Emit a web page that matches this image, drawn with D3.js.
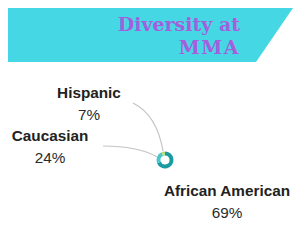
<!DOCTYPE html>
<html>
<head>
<meta charset="utf-8">
<script src="https://cdn.jsdelivr.net/npm/d3@7"></script>
<style>
	html, body { margin: 0; padding: 0; background: #fff; }
	svg { display: block; }
</style>
</head>
<body>
<div id="chart"></div>
<script>
	const categories = ['African American', 'Caucasian', 'Hispanic'];
	const shares = [69, 24, 7];
	const shareLabels = ['69%', '24%', '7%'];
	const sliceColors = ['#1a9ba3', '#48c6cc', '#b9dc7a'];
	const titleLines = ['Diversity at', 'MMA'];

	const width = 300, height = 250;
	const cx = 165, cy = 160;

	const svg = d3.select('#chart')
		.append('svg')
		.attr('width', width)
		.attr('height', height);

	// Banner with slanted right edge
	svg.append('path')
		.attr('d', 'M8,8 L293,8 L256,62 L8,62 Z')
		.attr('fill', '#46d7e4');

	svg.append('text')
		.attr('text-anchor', 'end')
		.style('font-family', '"DejaVu Serif", serif')
		.style('font-weight', 'bold')
		.style('font-size', '19px')
		.style('fill', '#a35fdc')
		.selectAll('tspan')
		.data(titleLines)
		.enter()
		.append('tspan')
		.attr('x', 240)
		.attr('y', function(d, i) { return 31 + i * 23; })
		.attr('letter-spacing', function(d, i) { return i === 1 ? '1.5px' : '0px'; })
		.text(function(d) { return d; });

	// Donut
	const pie = d3.pie().sort(null).value(function(d) { return d; });
	const arcs = pie(shares);
	const arc = d3.arc().innerRadius(4.5).outerRadius(8.5);
	const g = svg.append('g').attr('transform', 'translate(' + cx + ',' + cy + ')');

	g.selectAll('path.slice')
		.data(arcs)
		.enter()
		.append('path')
		.attr('class', 'slice')
		.attr('d', arc)
		.attr('fill', function(d, i) { return sliceColors[i]; });

	// Label placement (layout only)
	const labelPos = [
		{ x: 227, y: 196, line: null },
		{ x: 50, y: 141, line: [103, 146] },
		{ x: 89, y: 98, line: [133, 103] }
	];

	const edgeArc = d3.arc().innerRadius(9).outerRadius(9);

	arcs.forEach(function(d, i) {
		const lp = labelPos[i];
		if (lp.line) {
			const end = edgeArc.centroid(d);
			const ex = cx + end[0], ey = cy + end[1];
			const sx = lp.line[0], sy = lp.line[1];
			const p = d3.path();
			p.moveTo(sx, sy);
			if (i === 2) p.quadraticCurveTo(ex - 6, sy + 12, ex, ey);
			else p.quadraticCurveTo(sx + 35, sy, ex, ey);
			svg.append('path')
				.attr('d', p.toString())
				.attr('fill', 'none')
				.attr('stroke', '#c4c4c4')
				.attr('stroke-width', 1.2);
		}
		svg.append('text')
			.attr('x', lp.x)
			.attr('y', lp.y)
			.attr('text-anchor', 'middle')
			.style('font-family', '"Liberation Sans", Arial, sans-serif')
			.style('font-weight', 'bold')
			.style('font-size', '15.3px')
			.style('fill', '#222')
			.text(categories[i]);
		svg.append('text')
			.attr('x', lp.x)
			.attr('y', lp.y + 21.5)
			.attr('text-anchor', 'middle')
			.style('font-family', '"Liberation Sans", Arial, sans-serif')
			.style('font-size', '15.3px')
			.style('fill', '#2a2a2a')
			.text(shareLabels[i]);
	});
</script>
</body>
</html>
